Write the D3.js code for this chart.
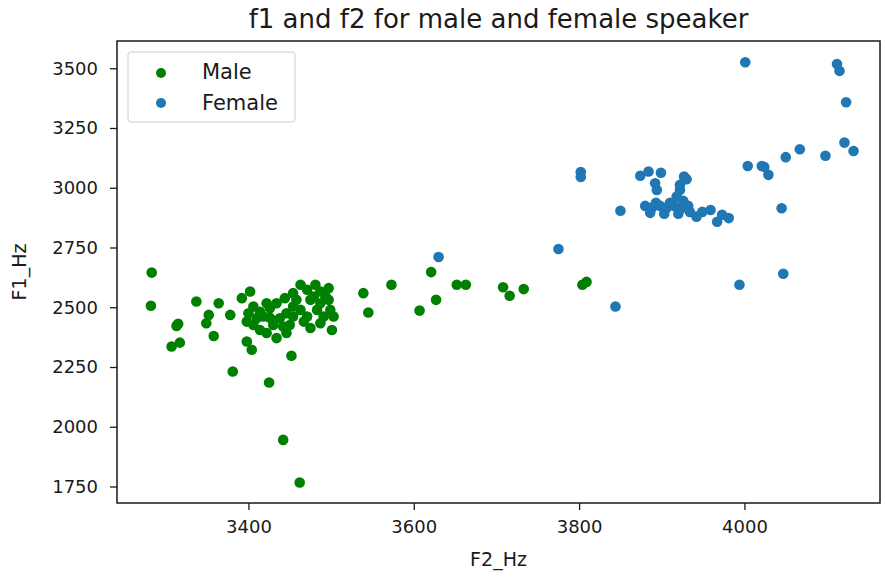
<!DOCTYPE html>
<html>
<head>
<meta charset="utf-8">
<script src="https://cdn.jsdelivr.net/npm/d3@7"></script>
<style>
  html, body { margin: 0; padding: 0; background: #fff; }
  svg { display: block; font-family: "DejaVu Sans", sans-serif; }
</style>
</head>
<body>
<svg id="chart" width="885" height="577"></svg>
<script>
// Formant measurements (Hz) for the male speaker
const maleF2 = [3283, 3282, 3337, 3364, 3315, 3313, 3307, 3317, 3352, 3349,
  3378, 3358, 3381, 3425, 3452, 3442, 3462, 3539, 3545, 3573,
  3621, 3627, 3607, 3652, 3663, 3708, 3716, 3733, 3804, 3809,
  3503, 3501, 3402, 3392, 3398, 3404,
  3463, 3471, 3497, 3487, 3479, 3454, 3444, 3434, 3422, 3426,
  3406, 3400, 3398, 3406, 3414, 3422, 3434, 3446, 3442, 3430,
  3454, 3463, 3471, 3483, 3491, 3487, 3475, 3467, 3454, 3446,
  3438, 3418, 3410, 3487, 3497, 3475, 3458, 3414, 3499, 3481,
  3493, 3450, 3426];
const maleF1 = [2645, 2506, 2524, 2517, 2431, 2422, 2336, 2352, 2468, 2433,
  2468, 2380, 2231, 2185, 2297, 1945, 1767, 2559, 2478, 2594,
  2647, 2531, 2486, 2594, 2594, 2584, 2548, 2576, 2594, 2606,
  2461, 2405, 2566, 2538, 2357, 2322,
  2594, 2573, 2580, 2566, 2545, 2559, 2538, 2517, 2517, 2496,
  2503, 2475, 2440, 2426, 2405, 2392, 2371, 2392, 2419, 2426,
  2461, 2489, 2461, 2489, 2461, 2433, 2413, 2440, 2503, 2475,
  2454, 2461, 2454, 2517, 2531, 2531, 2531, 2481, 2489, 2594,
  2548, 2426, 2456];

// Formant measurements (Hz) for the female speaker
const femaleF2 = [3630, 3775, 3844, 3802, 3802, 3850, 3994, 4047, 4045,
  3874, 3884, 3899, 3892, 3894, 3927, 3930, 3922, 3918, 3922,
  3880, 3888, 3898, 3906, 3915, 3923, 3932, 3886, 3903, 3920,
  3934, 3893, 3910, 3926, 3949, 3973,
  3942, 3959, 3967, 3981,
  4001, 4112, 4115, 4123, 4121, 4132, 4098, 4067, 4050, 4004,
  4021, 4029, 4024];
const femaleF1 = [2710, 2744, 2503, 3066, 3045, 2904, 2594, 2640, 2914,
  3050, 3068, 3063, 3019, 2991, 3047, 3036, 2991, 2963, 3012,
  2924, 2916, 2924, 2916, 2924, 2912, 2924, 2895, 2891, 2891,
  2899, 2937, 2937, 2945, 2899, 2887,
  2879, 2907, 2858, 2873,
  3525, 3518, 3489, 3358, 3189, 3154, 3134, 3161, 3128, 3091,
  3091, 3054, 3087];

const xTicks = [3400, 3600, 3800, 4000];
const yTicks = [1750, 2000, 2250, 2500, 2750, 3000, 3250, 3500];

const series = [
  { name: "Male",   color: "#008000", f2: maleF2,   f1: maleF1 },
  { name: "Female", color: "#1f77b4", f2: femaleF2, f1: femaleF1 }
];

const svg = d3.select("#chart");
const plot = { left: 117, top: 41, right: 880, bottom: 503 };
const ink = "#1a1a1a";

const x = d3.scaleLinear().domain([3241, 4164]).range([plot.left, plot.right]);
const y = d3.scaleLinear().domain([1681, 3614]).range([plot.bottom, plot.top]);

// Points
series.forEach(s => {
  svg.append("g")
    .selectAll("circle")
    .data(s.f2.map((v, i) => [v, s.f1[i]]))
    .join("circle")
      .attr("cx", d => x(d[0]))
      .attr("cy", d => y(d[1]))
      .attr("r", 5.3)
      .attr("fill", s.color);
});

// Axes
const xAxis = svg.append("g")
  .attr("transform", `translate(0,${plot.bottom})`)
  .call(d3.axisBottom(x).tickValues(xTicks).tickFormat(d3.format("d")).tickSize(7).tickPadding(10));
const yAxis = svg.append("g")
  .attr("transform", `translate(${plot.left},0)`)
  .call(d3.axisLeft(y).tickValues(yTicks).tickFormat(d3.format("d")).tickSize(7).tickPadding(12));

[xAxis, yAxis].forEach(g => {
  g.attr("font-size", null).attr("font-family", null);
  g.select(".domain").remove();
  g.selectAll(".tick line").attr("stroke", ink).attr("stroke-width", 1.3);
  g.selectAll(".tick text").attr("fill", ink).style("font-size", "18px");
});

// Frame
svg.append("rect")
  .attr("x", plot.left).attr("y", plot.top)
  .attr("width", plot.right - plot.left).attr("height", plot.bottom - plot.top)
  .attr("fill", "none").attr("stroke", ink).attr("stroke-width", 1.5);

// Title and axis labels
svg.append("text")
  .attr("x", (plot.left + plot.right) / 2).attr("y", 28)
  .attr("text-anchor", "middle").attr("fill", ink)
  .style("font-size", "26px")
  .text("f1 and f2 for male and female speaker");

svg.append("text")
  .attr("x", (plot.left + plot.right) / 2).attr("y", 566)
  .attr("text-anchor", "middle").attr("fill", ink)
  .style("font-size", "19px")
  .text("F2_Hz");

svg.append("text")
  .attr("transform", `translate(26,${(plot.top + plot.bottom) / 2}) rotate(-90)`)
  .attr("text-anchor", "middle").attr("fill", ink)
  .style("font-size", "19px")
  .text("F1_Hz");

// Legend
const legend = svg.append("g").attr("transform", "translate(128,52)");
legend.append("rect")
  .attr("width", 167).attr("height", 70).attr("rx", 3)
  .attr("fill", "#fff").attr("fill-opacity", 0.8)
  .attr("stroke", "#ccc").attr("stroke-width", 1);
series.forEach((s, i) => {
  legend.append("circle")
    .attr("cx", 33).attr("cy", 21 + i * 30).attr("r", 5)
    .attr("fill", s.color);
  legend.append("text")
    .attr("x", 74).attr("y", 27 + i * 31)
    .attr("fill", ink).style("font-size", "21px")
    .text(s.name);
});
</script>
</body>
</html>
